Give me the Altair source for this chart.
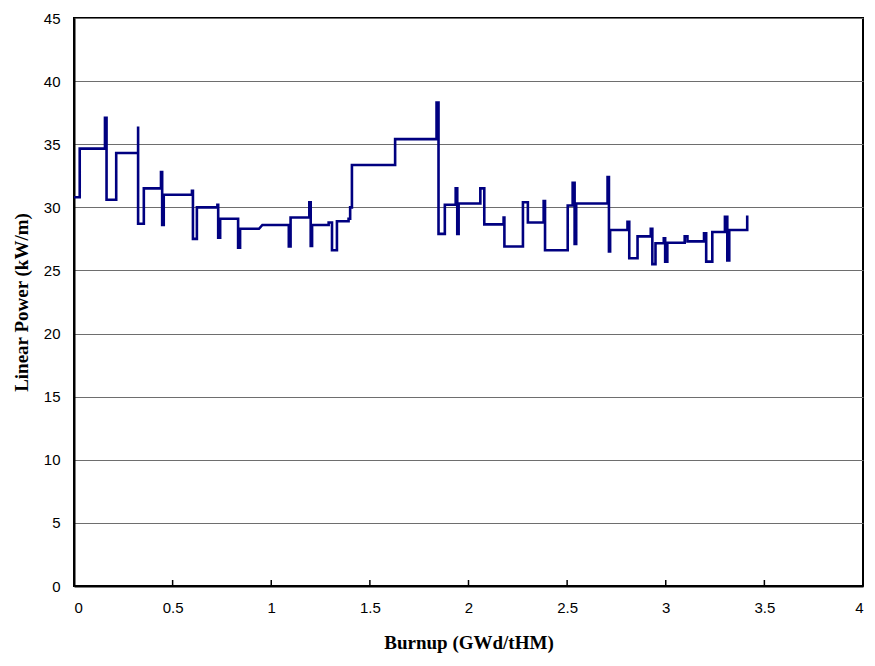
import altair as alt
import pandas as pd

# Burnup (GWd/tHM) and linear power (kW/m), path of the step history in drawing order
burnup = [
    0.000, 0.029, 0.029, 0.157, 0.157, 0.165, 0.165, 0.214, 0.214,
    0.325, 0.325, 0.325, 0.354, 0.354,
    0.441, 0.441, 0.447, 0.447, 0.455, 0.455,
    0.598, 0.598, 0.603, 0.603, 0.623, 0.623,
    0.727, 0.727, 0.731, 0.731, 0.741, 0.741,
    0.832, 0.832, 0.842, 0.842, 0.938, 0.955,
    1.089, 1.089, 1.098, 1.098,
    1.193, 1.193, 1.200, 1.200, 1.207, 1.207,
    1.291, 1.291, 1.308, 1.308, 1.333, 1.333,
    1.392, 1.392, 1.400, 1.400, 1.409, 1.409,
    1.628, 1.628,
    1.838, 1.838, 1.848, 1.848, 1.880, 1.880,
    1.935, 1.935, 1.943, 1.943, 1.950, 1.950,
    2.060, 2.060, 2.080, 2.080,
    2.178, 2.178, 2.182, 2.182,
    2.276, 2.276, 2.301, 2.301,
    2.381, 2.381, 2.388, 2.388,
    2.503, 2.503, 2.528, 2.528, 2.538, 2.538, 2.546, 2.546,
    2.705, 2.705, 2.712, 2.712, 2.718, 2.718,
    2.806, 2.806, 2.815, 2.815, 2.857, 2.857,
    2.924, 2.924, 2.932, 2.932, 2.948, 2.948,
    2.990, 2.990, 2.997, 2.997, 3.008, 3.008,
    3.096, 3.096, 3.110, 3.110,
    3.194, 3.194, 3.205, 3.205, 3.236, 3.236,
    3.300, 3.300, 3.312, 3.312, 3.322, 3.322,
    3.413, 3.413,
]
power = [
    30.8, 30.8, 34.65, 34.65, 37.1, 37.1, 30.6, 30.6, 34.3,
    34.3, 36.4, 28.7, 28.7, 31.5,
    31.5, 32.8, 32.8, 28.6, 28.6, 31.0,
    31.0, 31.3, 31.3, 27.5, 27.5, 30.0,
    30.0, 30.2, 30.2, 27.6, 27.6, 29.1,
    29.1, 26.8, 26.8, 28.3, 28.3, 28.6,
    28.6, 26.9, 26.9, 29.2,
    29.2, 30.4, 30.4, 26.95, 26.95, 28.6,
    28.6, 28.8, 28.8, 26.6, 26.6, 28.9,
    28.9, 29.1, 29.1, 30.0, 30.0, 33.35,
    33.35, 35.4,
    35.4, 38.3, 38.3, 27.9, 27.9, 30.2,
    30.2, 31.5, 31.5, 27.9, 27.9, 30.3,
    30.3, 31.5, 31.5, 28.65,
    28.65, 29.2, 29.2, 26.9,
    26.9, 30.4, 30.4, 28.8,
    28.8, 30.5, 30.5, 26.6,
    26.6, 30.15, 30.15, 31.95, 31.95, 27.1, 27.1, 30.3,
    30.3, 32.4, 32.4, 26.5, 26.5, 28.2,
    28.2, 28.85, 28.85, 25.97, 25.97, 27.7,
    27.7, 28.3, 28.3, 25.5, 25.5, 27.15,
    27.15, 27.55, 27.55, 25.7, 25.7, 27.2,
    27.2, 27.7, 27.7, 27.3,
    27.3, 27.95, 27.95, 25.7, 25.7, 28.05,
    28.05, 29.25, 29.25, 25.8, 25.8, 28.2,
    28.2, 29.35,
]
x_ticks = [0, 0.5, 1, 1.5, 2, 2.5, 3, 3.5, 4]
y_ticks = [0, 5, 10, 15, 20, 25, 30, 35, 40, 45]

df = pd.DataFrame({"i": list(range(len(burnup))), "burnup": burnup, "power": power})
ticks_df = pd.DataFrame({"t": x_ticks})

W, H = 789, 568

x_scale = alt.Scale(domain=[0, 4], nice=False)
y_scale = alt.Scale(domain=[0, 45], nice=False)

line = alt.Chart(df).mark_line(color="#000080", strokeWidth=2.6, strokeJoin="miter").encode(
    x=alt.X("burnup:Q", scale=x_scale,
            axis=alt.Axis(values=x_ticks, format="~g", title="Burnup (GWd/tHM)",
                          grid=False, ticks=False, labelPadding=14, titlePadding=18,
                          domainColor="black", domainWidth=2,
                          labelFont="Liberation Sans", labelFontSize=15, labelColor="black",
                          titleFont="Liberation Serif", titleFontSize=19,
                          titleFontWeight="bold", titleColor="black")),
    y=alt.Y("power:Q", scale=y_scale,
            axis=alt.Axis(values=y_ticks, title="Linear Power (kW/m)",
                          grid=True, gridColor="#6e6e6e", gridWidth=1.2, gridOpacity=1,
                          ticks=False, labelPadding=14, titlePadding=12,
                          domainColor="black", domainWidth=2,
                          labelFont="Liberation Sans", labelFontSize=15, labelColor="black",
                          titleFont="Liberation Serif", titleFontSize=19,
                          titleFontWeight="bold", titleColor="black")),
    order=alt.Order("i:Q"),
)

xticks = alt.Chart(ticks_df).mark_rule(color="black", strokeWidth=1.5).encode(
    x=alt.X("t:Q", scale=x_scale),
    y=alt.value(H - 6),
    y2=alt.value(H),
)

chart = alt.layer(xticks, line).properties(
    width=W, height=H,
    autosize="none",
    background="white",
    padding={"left": 66, "top": 10, "right": 4, "bottom": 68},
).configure_view(
    stroke="black", strokeWidth=2
)

chart.save("out.html", embed_options={"renderer": "svg", "actions": False})
